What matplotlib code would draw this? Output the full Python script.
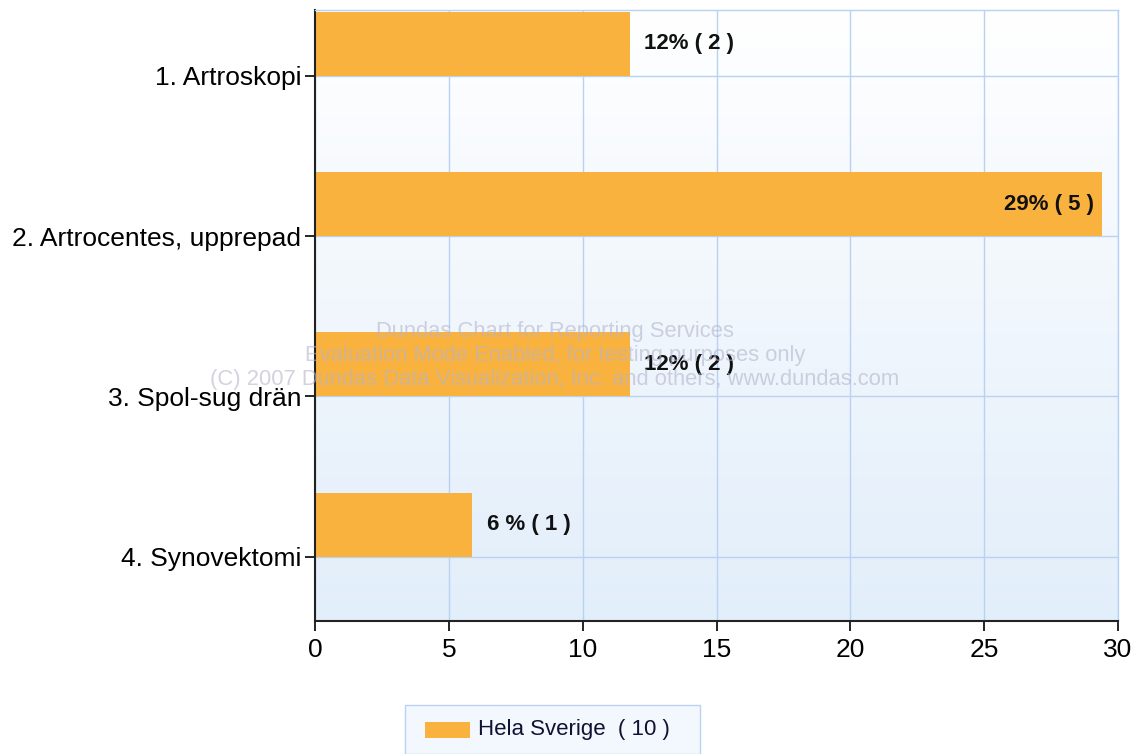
import numpy as np
import matplotlib.pyplot as plt
from matplotlib.patches import Rectangle
from matplotlib import font_manager

categories = ["1. Artroskopi", "2. Artrocentes, upprepad", "3. Spol-sug drän", "4. Synovektomi"]
percent = [11.76, 29.41, 11.76, 5.88]
counts = [2, 5, 2, 1]
bar_labels = ["12% ( 2 )", "29% ( 5 )", "12% ( 2 )", "6 % ( 1 )"]
series_name = "Hela Sverige  ( 10 )"

bar_color = "#F9B23E"
grid_color = "#B9D1F2"

plt.rcParams['font.family'] = ['Liberation Sans', 'DejaVu Sans']
names = {f.name for f in font_manager.fontManager.ttflist}
narrow = 'Liberation Sans Narrow' if 'Liberation Sans Narrow' in names else 'Liberation Sans'

fig = plt.figure(figsize=(11.34, 7.54), dpi=100)
ax = fig.add_axes([315 / 1134, 1 - 621 / 754, (1118 - 315) / 1134, (621 - 10) / 754])

# gradient background, white at top to light blue at bottom
grad = np.linspace(0, 1, 256).reshape(-1, 1)
top = np.array([1.0, 1.0, 1.0])
bottom = np.array([0xE2, 0xEE, 0xFA]) / 255
img = top + (bottom - top) * grad[..., None]
ax.imshow(img, extent=[0, 1, 0, 1], transform=ax.transAxes, aspect='auto', zorder=0)

y = np.arange(len(categories))
ax.set_xlim(0, 30)
ax.set_ylim(3.4, -0.41)

# bars sit just above their category tick
ax.barh(y - 0.2, percent, height=0.4, color=bar_color, zorder=2)

for i, (v, lab) in enumerate(zip(percent, bar_labels)):
    if v > 25:
        ax.text(v - 0.3, i - 0.2, lab, ha='right', va='center', fontsize=16,
                fontweight='bold', color='#111111', zorder=4)
    else:
        ax.text(v + 0.55, i - 0.2, lab, ha='left', va='center', fontsize=16,
                fontweight='bold', color='#111111', zorder=4)

ax.set_yticks(y)
ax.set_yticklabels(categories, fontsize=19)
ax.set_xticks(np.arange(0, 31, 5))
ax.set_xticklabels([str(t) for t in range(0, 31, 5)], fontsize=19, family=narrow)
ax.tick_params(axis='x', length=7, width=1.2, pad=5)
ax.tick_params(axis='y', length=7, width=1.2, pad=3)

ax.grid(True, color=grid_color, linewidth=1, zorder=1)
ax.set_axisbelow(True)
for s in ['top', 'right']:
    ax.spines[s].set_color(grid_color)
    ax.spines[s].set_linewidth(1)
for s in ['left', 'bottom']:
    ax.spines[s].set_color('#222222')
    ax.spines[s].set_linewidth(1.5)

# evaluation watermark
wm = ["Dundas Chart for Reporting Services",
      "Evaluation Mode Enabled, for testing purposes only",
      "(C) 2007 Dundas Data Visualization, Inc. and others, www.dundas.com"]
for k, line in enumerate(wm):
    fig.text(555 / 1134, 1 - (331 + 24 * k) / 754, line, ha='center', va='center',
             fontsize=15.8, color='#B4B4CC', alpha=0.6, zorder=10)

# legend box
fig.patches.append(Rectangle((405 / 1134, 0), 295 / 1134, 49 / 754, transform=fig.transFigure,
                             facecolor='#F3F8FE', edgecolor='#B9D1F2', linewidth=1))
fig.patches.append(Rectangle((425 / 1134, 1 - 738 / 754), 45 / 1134, 16 / 754,
                             transform=fig.transFigure, facecolor=bar_color, edgecolor='none'))
fig.text(478 / 1134, 1 - 730 / 754, series_name, ha='left', va='center', fontsize=16, color='#111133')

fig.savefig("out.png", dpi=100)
